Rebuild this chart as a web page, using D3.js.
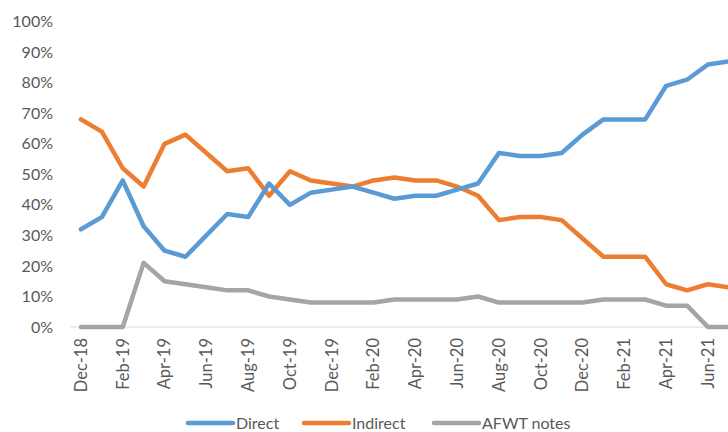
<!DOCTYPE html>
<html>
<head>
<meta charset="utf-8">
<script src="https://cdn.jsdelivr.net/npm/d3@7"></script>
<style>
  body { margin: 0; background: #fff; }
  svg text { font-family: Lato, "Open Sans", sans-serif; fill: #595959; }
</style>
</head>
<body>
<div id="chart"></div>
<script>
// monthly shares, Dec-18 .. Jul-21
var months = ["Dec-18","Jan-19","Feb-19","Mar-19","Apr-19","May-19","Jun-19","Jul-19","Aug-19","Sep-19","Oct-19","Nov-19",
  "Dec-19","Jan-20","Feb-20","Mar-20","Apr-20","May-20","Jun-20","Jul-20","Aug-20","Sep-20","Oct-20","Nov-20",
  "Dec-20","Jan-21","Feb-21","Mar-21","Apr-21","May-21","Jun-21","Jul-21"];
var direct   = [32,36,48,33,25,23,30,37,36,47,40,44,45,46,44,42,43,43,45,47,57,56,56,57,63,68,68,68,79,81,86,87];
var indirect = [68,64,52,46,60,63,57,51,52,43,51,48,47,46,48,49,48,48,46,43,35,36,36,35,29,23,23,23,14,12,14,13];
var afwt     = [0,0,0,21,15,14,13,12,12,10,9,8,8,8,8,9,9,9,9,10,8,8,8,8,8,9,9,9,7,7,0,0];
var yTicks = [0,10,20,30,40,50,60,70,80,90,100];
var tickMonths = months.filter(function(m, i){ return i % 2 == 0; });

var series = [
  {name: "Direct", values: direct, color: "#5B9BD5"},
  {name: "Indirect", values: indirect, color: "#ED7D31"},
  {name: "AFWT notes", values: afwt, color: "#A5A5A5"}
];

var W = 728, H = 432;
var svg = d3.select("#chart").append("svg")
  .attr("width", W).attr("height", H);

var x = d3.scaleBand().domain(months).range([70.5, 739.3]).padding(0);
var y = d3.scaleLinear().domain([0, 100]).range([327, 21.7]);
var cx = function(m){ return x(m) + x.bandwidth() / 2; };

// y axis labels
svg.append("g").selectAll("text")
  .data(yTicks).enter().append("text")
  .attr("x", 53)
  .attr("y", function(d){ return y(d); })
  .attr("dy", "0.35em")
  .attr("text-anchor", "end")
  .style("font-size", "16px")
  .text(function(d){ return d + "%"; });

// baseline
svg.append("line")
  .attr("x1", x.range()[0]).attr("x2", x.range()[1])
  .attr("y1", y(0)).attr("y2", y(0))
  .attr("stroke", "#D9D9D9").attr("stroke-width", 1);

// x labels, rotated
svg.append("g").selectAll("text")
  .data(tickMonths).enter().append("text")
  .attr("transform", function(d){ return "translate(" + cx(d) + ",338) rotate(-90)"; })
  .attr("dy", "0.35em")
  .attr("text-anchor", "end")
  .style("font-size", "16.5px")
  .text(function(d){ return d; });

var line = d3.line()
  .x(function(d, i){ return cx(months[i]); })
  .y(function(d){ return y(d); });

svg.append("g").selectAll("path")
  .data(series.slice().reverse()).enter().append("path")
  .attr("d", function(s){ return line(s.values); })
  .attr("fill", "none")
  .attr("stroke", function(s){ return s.color; })
  .attr("stroke-width", 4.5)
  .attr("stroke-linejoin", "round")
  .attr("stroke-linecap", "round");

// legend
var legendX = [188, 304, 434];
var legend = svg.selectAll(".legend")
  .data(series).enter().append("g")
  .attr("class", "legend")
  .attr("transform", function(d, i){ return "translate(" + legendX[i] + ",423)"; });
legend.append("line")
  .attr("x1", 0).attr("x2", 45)
  .attr("stroke", function(d){ return d.color; })
  .attr("stroke-width", 4.5)
  .attr("stroke-linecap", "round");
legend.append("text")
  .attr("x", 48)
  .attr("dy", "0.35em")
  .style("font-size", "16px")
  .text(function(d){ return d.name; });
</script>
</body>
</html>
